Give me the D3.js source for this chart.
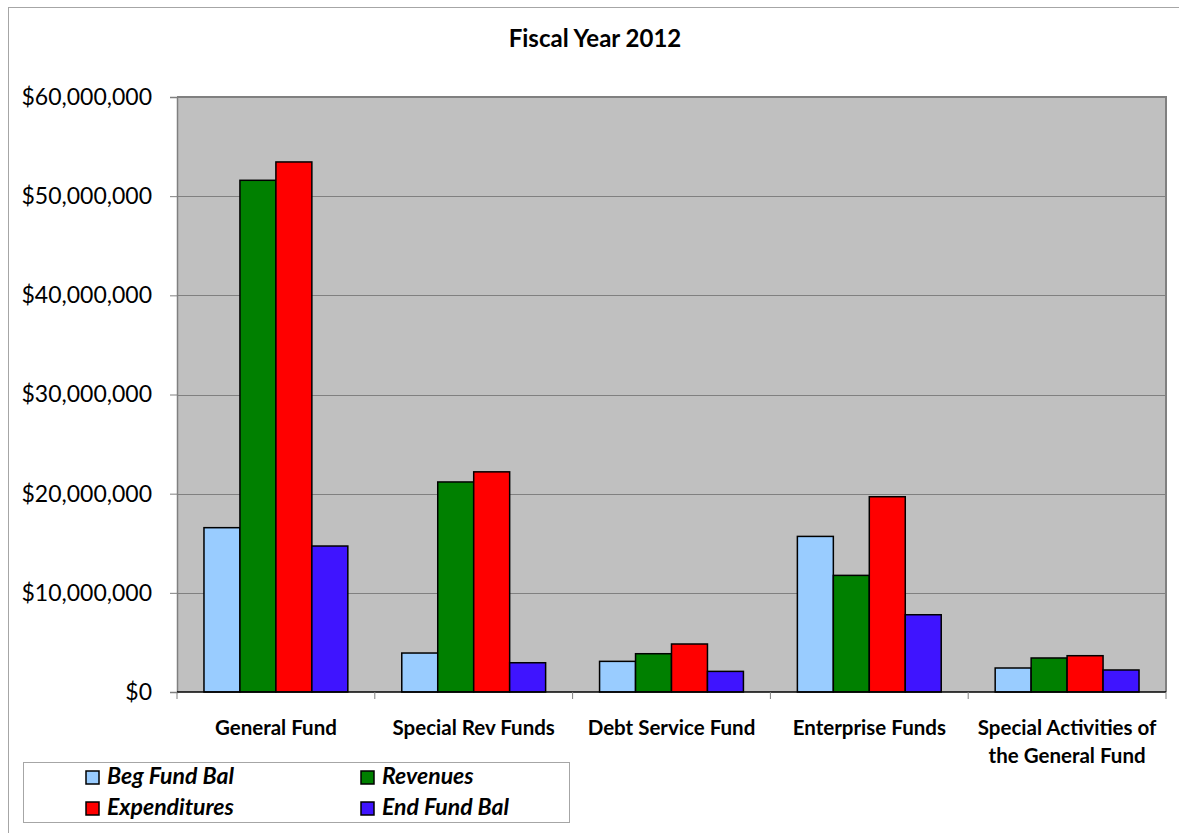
<!DOCTYPE html>
<html>
<head>
<meta charset="utf-8">
<script src="https://cdn.jsdelivr.net/npm/d3@7"></script>
<style>
  html, body { margin: 0; padding: 0; background: #fff; }
  svg { display: block; }
  text { font-family: Lato, "Open Sans", sans-serif; }
</style>
</head>
<body>
<svg id="chart" width="1179" height="833"></svg>
<script>
// ---- Data ----
const categories = [
  ["General Fund"],
  ["Special Rev Funds"],
  ["Debt Service Fund"],
  ["Enterprise Funds"],
  ["Special Activities of", "the General Fund"]
];
const seriesNames = ["Beg Fund Bal", "Revenues", "Expenditures", "End Fund Bal"];
const begFundBal   = [16570000, 3930000, 3090000, 15690000, 2420000];
const revenues     = [51600000, 21180000, 3860000, 11760000, 3430000];
const expenditures = [53450000, 22200000, 4840000, 19690000, 3660000];
const endFundBal   = [14720000, 2950000, 2080000, 7790000, 2220000];
const seriesColors = ["#99CCFF", "#008000", "#FF0000", "#3F14FF"];
const yTicks = [0, 10000000, 20000000, 30000000, 40000000, 50000000, 60000000];
const titleText = "Fiscal Year 2012";

const seriesValues = [begFundBal, revenues, expenditures, endFundBal];

// ---- Layout ----
const svg = d3.select("#chart");
const plot = { left: 177, top: 97, right: 1166, bottom: 692 };

// outer chart border (right/bottom run off the picture)
svg.append("rect")
  .attr("x", 8.5).attr("y", 7.5)
  .attr("width", 1250).attr("height", 900)
  .attr("fill", "none").attr("stroke", "#A6A6A6").attr("stroke-width", 1);

// title
svg.append("text")
  .attr("x", 595).attr("y", 47)
  .attr("text-anchor", "middle")
  .attr("font-weight", "bold")
  .attr("font-size", 24)
  .text(titleText);

const catKeys = categories.map(c => c.join(" "));
const x0 = d3.scaleBand().domain(catKeys).range([plot.left, plot.right]).paddingInner(0).paddingOuter(0);
const bw = x0.bandwidth();
const barW = bw / (seriesNames.length + 1.5);
const x1 = d3.scaleBand().domain(seriesNames)
  .range([barW * 0.75, bw - barW * 0.75]).padding(0);
const y = d3.scaleLinear().domain([0, 60000000]).range([plot.bottom, plot.top]);

// plot background
svg.append("rect")
  .attr("x", plot.left).attr("y", plot.top)
  .attr("width", plot.right - plot.left).attr("height", plot.bottom - plot.top)
  .attr("fill", "#C0C0C0");

// gridlines
svg.append("g").selectAll("line").data(yTicks.slice(1)).join("line")
  .attr("x1", plot.left).attr("x2", plot.right)
  .attr("y1", d => Math.round(y(d)) + 0.5).attr("y2", d => Math.round(y(d)) + 0.5)
  .attr("stroke", "#808080").attr("stroke-width", 1);

// plot border top/right
svg.append("path")
  .attr("d", `M${plot.left},${plot.top}H${plot.right}V${plot.bottom}`)
  .attr("fill", "none").attr("stroke", "#808080").attr("stroke-width", 2);

// bars
const groups = svg.append("g").selectAll("g").data(catKeys).join("g")
  .attr("transform", d => `translate(${x0(d)},0)`);
groups.selectAll("rect")
  .data((d, i) => seriesNames.map((s, j) => ({ s, v: seriesValues[j][i], c: seriesColors[j] })))
  .join("rect")
  .attr("x", d => x1(d.s))
  .attr("width", x1.bandwidth())
  .attr("y", d => y(d.v))
  .attr("height", d => y(0) - y(d.v))
  .attr("fill", d => d.c)
  .attr("stroke", "#000")
  .attr("stroke-width", 1.5);

// y axis
const yAxis = d3.axisLeft(y).tickValues(yTicks).tickSize(7).tickPadding(18)
  .tickFormat(d => "$" + d3.format(",")(d));
const gy = svg.append("g").attr("transform", `translate(${plot.left},0)`).call(yAxis);
gy.select(".domain").attr("stroke", "#808080").attr("stroke-width", 1.5);
gy.selectAll(".tick line").attr("stroke", "#808080");
gy.selectAll(".tick text").attr("font-size", 23).attr("fill", "#000")
  .style("font-family", "Lato, 'Open Sans', sans-serif");

// x axis
const gx = svg.append("g").attr("transform", `translate(0,${plot.bottom})`);
gx.append("line").attr("x1", plot.left).attr("x2", plot.right)
  .attr("y1", 0).attr("y2", 0).attr("stroke", "#000").attr("stroke-width", 1.5);
const boundaries = catKeys.map(k => x0(k)).concat([plot.right]);
gx.selectAll("line.tk").data(boundaries).join("line").attr("class", "tk")
  .attr("x1", d => d).attr("x2", d => d).attr("y1", 0).attr("y2", 7)
  .attr("stroke", "#808080");
const labs = gx.selectAll("text.cat").data(categories).join("text").attr("class", "cat")
  .attr("text-anchor", "middle")
  .attr("font-weight", "bold").attr("font-size", 20.5)
  .attr("transform", (d, i) => `translate(${x0(catKeys[i]) + bw / 2},0)`);
labs.selectAll("tspan").data(d => d).join("tspan")
  .attr("x", 0).attr("y", (d, i) => 43 + i * 28)
  .text(d => d);

// legend
const lg = svg.append("g");
lg.append("rect").attr("x", 23.5).attr("y", 762.5).attr("width", 546).attr("height", 60)
  .attr("fill", "#fff").attr("stroke", "#A6A6A6").attr("stroke-width", 1);
const legPos = [[86, 771], [361, 771], [86, 802], [361, 802]];
const items = lg.selectAll("g").data(seriesNames).join("g")
  .attr("transform", (d, i) => `translate(${legPos[i][0]},${legPos[i][1]})`);
items.append("rect").attr("width", 13).attr("height", 13)
  .attr("fill", (d, i) => seriesColors[i]).attr("stroke", "#000").attr("stroke-width", 1.5);
items.append("text").attr("x", 21).attr("y", 13)
  .attr("font-weight", "bold").attr("font-style", "italic").attr("font-size", 23)
  .text(d => d);
</script>
</body>
</html>
